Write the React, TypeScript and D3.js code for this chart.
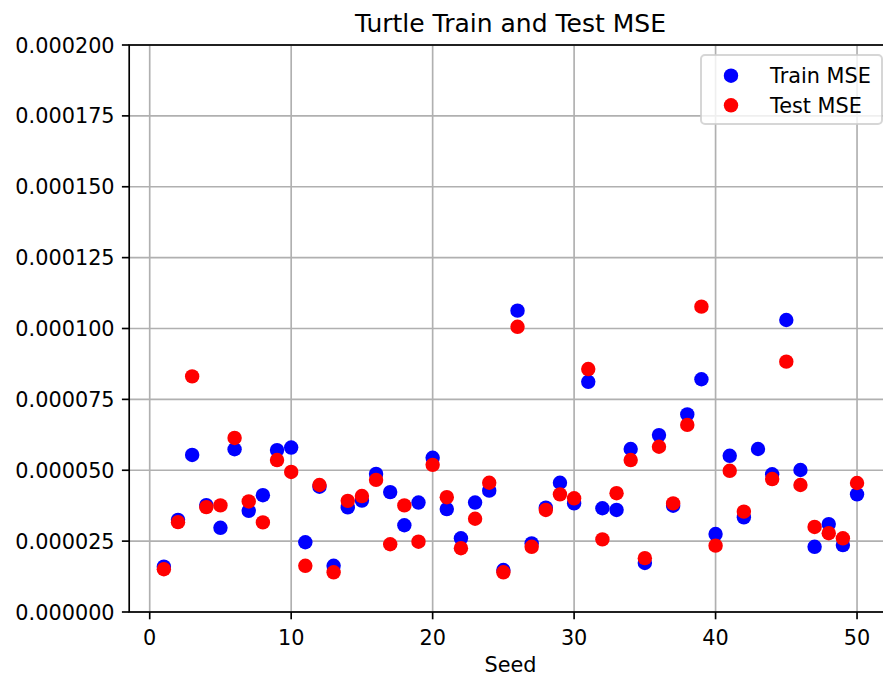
import React from "react";
import * as d3 from "d3";

// Seeds 1..50
const seeds: number[] = d3.range(1, 51);

// Train MSE per seed (×1e-6)
const trainMSE: number[] = [
  16.0, 32.5, 55.4, 37.7, 29.7, 57.4, 35.7, 41.2, 57.1, 58.0,
  24.6, 44.2, 16.3, 36.9, 39.3, 48.7, 42.3, 30.6, 38.6, 54.4,
  36.3, 26.0, 38.6, 42.8, 14.8, 106.3, 24.2, 36.8, 45.6, 38.3,
  81.2, 36.6, 36.0, 57.5, 17.3, 62.4, 37.5, 69.7, 82.1, 27.5,
  55.1, 33.4, 57.5, 48.6, 103.0, 50.1, 23.0, 31.0, 23.6, 41.5,
];

// Test MSE per seed (×1e-6); seed 43 has no test value
const testMSE: (number | null)[] = [
  15.1, 31.7, 83.1, 37.0, 37.6, 61.4, 39.0, 31.6, 53.6, 49.4,
  16.3, 44.8, 14.0, 39.2, 40.9, 46.6, 23.9, 37.6, 24.8, 51.9,
  40.5, 22.5, 32.9, 45.6, 14.0, 100.6, 23.0, 36.0, 41.5, 40.1,
  85.7, 25.6, 41.9, 53.6, 19.0, 58.3, 38.3, 66.0, 107.7, 23.4,
  49.8, 35.4, null, 46.9, 88.3, 44.8, 30.0, 27.8, 26.0, 45.5,
];

const xTicks: number[] = [0, 10, 20, 30, 40, 50];
const yTicks: number[] = [0, 0.000025, 0.00005, 0.000075, 0.0001, 0.000125, 0.00015, 0.000175, 0.0002];

const seriesNames = ["Train MSE", "Test MSE"];
const seriesColors = ["blue", "red"];

const W = 883;
const H = 680;
const FONT = "DejaVu Sans, sans-serif";
const TICK_FS = 20.8;
const TITLE_FS = 25;

export default function App() {
  const left = 129.2;
  const right = 891.7;
  const top = 45;
  const bottom = 612;

  const x = d3.scaleLinear().domain([-1.45, 52.45]).range([left, right]);
  const y = d3.scaleLinear().domain([0, 0.0002]).range([bottom, top]);

  const r = 7.2;
  const lw = 1.67;
  const train = seeds.map((s, i) => ({ s, v: trainMSE[i] * 1e-6 }));
  const test = seeds
    .map((s, i) => ({ s, v: testMSE[i] }))
    .filter((d) => d.v !== null)
    .map((d) => ({ s: d.s, v: (d.v as number) * 1e-6 }));

  const legX = 701;
  const legY = 55;

  return (
    <svg
      width={W}
      height={H}
      style={{ position: "absolute", left: 0, top: 0, background: "#fff" }}
      fontFamily={FONT}
    >
      <defs>
        <clipPath id="plot">
          <rect x={left} y={top} width={right - left} height={bottom - top} />
        </clipPath>
      </defs>

      {/* grid */}
      <g stroke="#b0b0b0" strokeWidth={lw}>
        {xTicks.map((t) => (
          <line key={"gx" + t} x1={x(t)} x2={x(t)} y1={top} y2={bottom} />
        ))}
        {yTicks.map((t) => (
          <line key={"gy" + t} x1={left} x2={right} y1={y(t)} y2={y(t)} />
        ))}
      </g>

      {/* points */}
      <g clipPath="url(#plot)">
        {train.map((d) => (
          <circle key={"tr" + d.s} cx={x(d.s)} cy={y(d.v)} r={r} fill={seriesColors[0]} />
        ))}
        {test.map((d) => (
          <circle key={"te" + d.s} cx={x(d.s)} cy={y(d.v)} r={r} fill={seriesColors[1]} />
        ))}
      </g>

      {/* spines */}
      <rect
        x={left}
        y={top}
        width={right - left}
        height={bottom - top}
        fill="none"
        stroke="#000"
        strokeWidth={lw}
      />

      {/* x ticks */}
      <g>
        {xTicks.map((t) => (
          <g key={"xt" + t} transform={`translate(${x(t)},${bottom})`}>
            <line y1={0} y2={7.3} stroke="#000" strokeWidth={lw} />
            <text y={33} textAnchor="middle" fontSize={TICK_FS} fill="#000">
              {t}
            </text>
          </g>
        ))}
      </g>

      {/* y ticks */}
      <g>
        {yTicks.map((t) => (
          <g key={"yt" + t} transform={`translate(${left},${y(t)})`}>
            <line x1={0} x2={-7.3} stroke="#000" strokeWidth={lw} />
            <text x={-14.6} dy="0.36em" textAnchor="end" fontSize={TICK_FS} fill="#000">
              {t.toFixed(6)}
            </text>
          </g>
        ))}
      </g>

      {/* labels */}
      <text x={(left + right) / 2} y={672} textAnchor="middle" fontSize={TICK_FS} fill="#000">
        Seed
      </text>
      <text x={(left + right) / 2} y={32} textAnchor="middle" fontSize={TITLE_FS} fill="#000">
        Turtle Train and Test MSE
      </text>

      {/* legend */}
      <g>
        <rect
          x={legX}
          y={legY}
          width={181}
          height={69}
          rx={4}
          fill="#fff"
          fillOpacity={0.8}
          stroke="#cccccc"
          strokeOpacity={0.8}
          strokeWidth={2}
        />
        {seriesNames.map((name, i) => (
          <g key={name} transform={`translate(${legX},${legY + 20.7 + i * 29.6})`}>
            <circle cx={30} cy={0} r={r} fill={seriesColors[i]} />
            <text x={69} dy="0.36em" fontSize={TICK_FS} fill="#000">
              {name}
            </text>
          </g>
        ))}
      </g>
    </svg>
  );
}
